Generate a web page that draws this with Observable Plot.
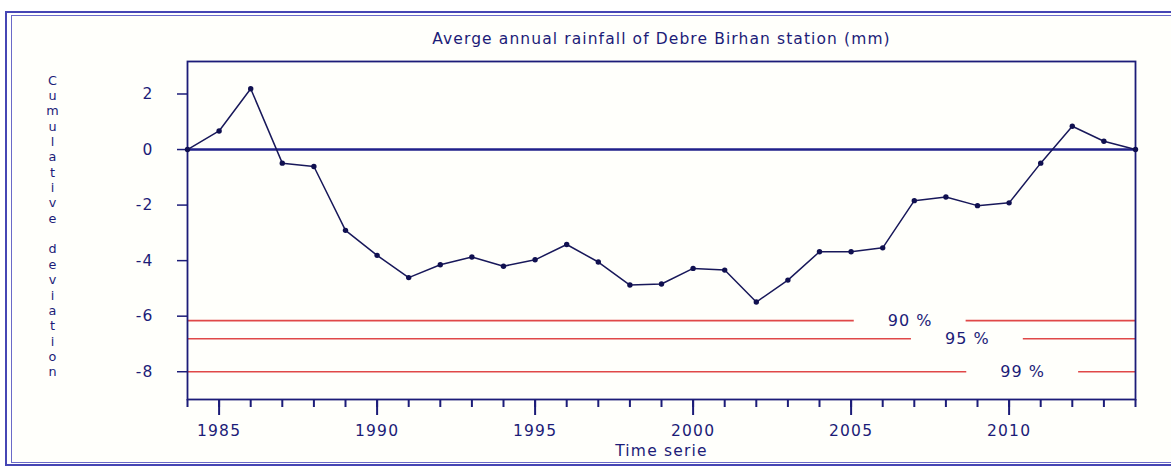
<!DOCTYPE html>
<html>
<head>
<meta charset="utf-8">
<script src="https://cdn.jsdelivr.net/npm/d3@7"></script>
<script src="https://cdn.jsdelivr.net/npm/@observablehq/plot@0.6"></script>
<style>
  html, body { margin: 0; padding: 0; background: #ffffff; width: 1171px; height: 467px; overflow: hidden; }
  #wrap { position: relative; width: 1171px; height: 467px; overflow: hidden; }
  #outer { position: absolute; left: 5px; top: 11px; width: 1200px; height: 455px; border-top: 2px solid #4646b4; border-left: 2px solid #4646b4; border-bottom: 2px solid #4646b4; box-sizing: border-box; }
  #inner { position: absolute; left: 11px; top: 15px; width: 1200px; height: 448px; border-top: 1.5px solid #6a6ac8; border-left: 1.5px solid #6a6ac8; border-bottom: 1.5px solid #6a6ac8; box-sizing: border-box; background: #fffffb; }
  #chart { position: absolute; left: 0; top: 0; }
</style>
</head>
<body>
<div id="wrap">
  <div id="outer"></div>
  <div id="inner"></div>
  <div id="chart"></div>
</div>
<script>
// ---- data ----
const years = [1984, 1985, 1986, 1987, 1988, 1989, 1990, 1991, 1992, 1993, 1994,
               1995, 1996, 1997, 1998, 1999, 2000, 2001, 2002, 2003, 2004,
               2005, 2006, 2007, 2008, 2009, 2010, 2011, 2012, 2013, 2014];
const deviation = [0, 0.67, 2.19, -0.49, -0.61, -2.91, -3.81, -4.61, -4.15, -3.87, -4.2,
                   -3.97, -3.42, -4.05, -4.88, -4.84, -4.28, -4.34, -5.49, -4.7, -3.68,
                   -3.68, -3.54, -1.84, -1.71, -2.02, -1.92, -0.49, 0.84, 0.3, 0];
const levelNames = ["90 %", "95 %", "99 %"];
const levelValues = [-6.16, -6.81, -8.0];
const levelLabelYears = [2006.87, 2008.68, 2010.43];
const yTicks = [-8, -6, -4, -2, 0, 2];
const xMajorTicks = [1985, 1990, 1995, 2000, 2005, 2010];
const xMinorTicks = years;
const titleText = "Averge annual rainfall of Debre Birhan station (mm)";
const xLabel = "Time serie";
const yLabel = "Cumulative deviation";

// ---- derived tables ----
const series = years.map((y, i) => ({year: y, value: deviation[i]}));
const gapHalf = 1.77; // years on each side of a level label
const xMin = years[0], xMax = years[years.length - 1];
const levels = levelNames.map((n, i) => ({name: n, value: levelValues[i], lx: levelLabelYears[i]}));
const segments = levels.flatMap(l => [
  {value: l.value, a: xMin, b: l.lx - gapHalf},
  {value: l.value, a: l.lx + gapHalf, b: xMax}
]);

const navy = "#1c1c78";
const red = "#e04848";
const font = "DejaVu Sans, sans-serif";

const chart = Plot.plot({
  width: 1171,
  height: 467,
  marginLeft: 187,
  marginRight: 36,
  marginTop: 61,
  marginBottom: 68,
  style: {background: "transparent", fontFamily: font, fontSize: "14px", color: navy},
  x: {domain: [xMin, xMax]},
  y: {domain: [-9, 3.17]},
  marks: [
    // minor x ticks
    Plot.axisX({ticks: xMinorTicks, tickSize: 8, tickFormat: () => "", stroke: navy, strokeWidth: 2, label: null}),
    // major x ticks
    Plot.axisX({ticks: xMajorTicks, tickSize: 16, tickPadding: 9, tickFormat: d => String(d), stroke: navy, strokeWidth: 2, fill: navy, label: null, fontSize: 15.5}),
    Plot.axisY({ticks: yTicks, tickSize: 10, tickPadding: 24, tickFormat: d => String(d), stroke: navy, strokeWidth: 1.5, fill: navy, label: null, fontSize: 15.5}),
    Plot.ruleY(segments, {y: "value", x1: "a", x2: "b", stroke: red, strokeWidth: 1.6}),
    Plot.text(levels, {x: "lx", y: "value", text: "name", fill: navy, fontSize: 16, textAnchor: "middle", lineAnchor: "middle"}),
    Plot.ruleY([0], {stroke: "#20208a", strokeWidth: 2.5}),
    Plot.frame({stroke: navy, strokeWidth: 1.8}),
    Plot.line(series, {x: "year", y: "value", stroke: "#18185a", strokeWidth: 1.5}),
    Plot.dot(series, {x: "year", y: "value", r: 2.7, fill: "#101050", stroke: "none"}),
    Plot.text([titleText], {frameAnchor: "top", dy: -22, fill: navy, fontSize: 15.5, lineAnchor: "middle"}),
    Plot.text([xLabel], {frameAnchor: "bottom", dy: 52, fill: navy, fontSize: 15.5, lineAnchor: "middle"}),
    Plot.text([yLabel.split(" ").map(w => w.split("").join("\n")).join("\n\n")], {
      frameAnchor: "left", dx: -135, dy: -5, fill: navy, fontSize: 12.8,
      textAnchor: "middle", lineAnchor: "middle", lineHeight: 1.2
    })
  ]
});

// letter spacing to mimic the wide bitmap font of the original
const svg = d3.select(chart);
svg.selectAll('g[aria-label="x-axis tick label"], g[aria-label="y-axis tick label"]').attr("letter-spacing", "1.2px");
svg.selectAll("text").each(function () {
  const t = this.textContent;
  if (t === titleText) d3.select(this).attr("letter-spacing", "1.1px");
  else if (t === xLabel) d3.select(this).attr("letter-spacing", "1.2px");
  else if (levelNames.includes(t)) d3.select(this).attr("letter-spacing", "1px");
});
document.getElementById("chart").appendChild(chart);
</script>
</body>
</html>
